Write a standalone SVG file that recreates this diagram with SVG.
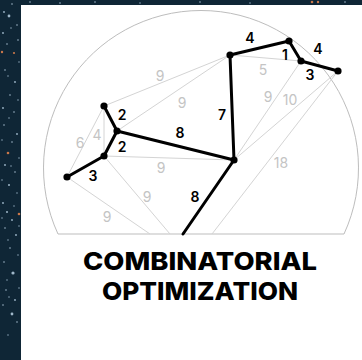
<svg xmlns="http://www.w3.org/2000/svg" width="362" height="360" viewBox="0 0 362 360">
<style>
.star{fill:#9fb7c9}
.ostar{fill:#c9774a}
.g{stroke:#d4d4d4;stroke-width:1;fill:none}
.t{stroke:#000;stroke-width:3;fill:none;stroke-linecap:round}
.n{fill:#000}
.gl{font-family:"Inter","Noto Sans",sans-serif;font-size:14px;fill:#c4c4c4;text-anchor:middle}
.bl{font-family:"Inter","Noto Sans",sans-serif;font-size:14px;font-weight:600;fill:#000;text-anchor:middle}
.title{font-family:"Inter","Liberation Sans",sans-serif;font-size:25px;font-weight:800;fill:#000;text-anchor:middle}
</style>
<rect width="362" height="360" fill="#0f2636"/>
<g id="stars">
<circle class="star" cx="4" cy="12" r="0.9"/><circle class="star" cx="12" cy="4" r="0.8"/><circle class="star" cx="9" cy="16" r="1.4" fill="#6f86b0"/>
<circle class="star" cx="17" cy="25" r="0.8"/><circle class="star" cx="3" cy="33" r="0.9"/><circle class="ostar" cx="2" cy="52" r="1.2"/>
<circle class="ostar" cx="14" cy="53" r="1.1"/><circle class="star" cx="7" cy="44" r="0.8"/><circle class="star" cx="18" cy="40" r="0.8"/>
<circle class="star" cx="5" cy="70" r="0.8"/><circle class="star" cx="15" cy="82" r="0.9"/><circle class="star" cx="10" cy="95" r="0.8"/>
<circle class="star" cx="3" cy="108" r="0.9"/><circle class="star" cx="14" cy="112" r="0.8"/><circle class="ostar" cx="8" cy="153" r="1.3"/>
<circle class="star" cx="4" cy="125" r="0.8"/><circle class="star" cx="17" cy="134" r="0.9"/><circle class="star" cx="12" cy="142" r="0.8"/>
<circle class="star" cx="5" cy="165" r="0.9"/><circle class="star" cx="15" cy="172" r="0.8"/><circle class="star" cx="9" cy="185" r="1"/>
<circle class="ostar" cx="19" cy="214" r="1.3"/><circle class="star" cx="3" cy="203" r="0.9"/><circle class="star" cx="7" cy="212" r="1"/>
<circle class="star" cx="12" cy="220" r="0.9"/><circle class="star" cx="5" cy="228" r="0.8"/><circle class="star" cx="16" cy="235" r="0.9"/>
<circle class="star" cx="10" cy="248" r="0.8"/><circle class="star" cx="4" cy="262" r="0.8"/><circle class="star" cx="13" cy="273" r="1.6" fill="#6f76b0"/>
<circle class="star" cx="6" cy="290" r="0.8"/><circle class="star" cx="15" cy="300" r="0.9"/><circle class="star" cx="3" cy="305" r="0.8"/>
<circle class="star" cx="12" cy="314" r="1.4" fill="#7a8cc0"/><circle class="star" cx="17" cy="322" r="0.8"/><circle class="star" cx="8" cy="335" r="0.7"/>
<circle class="star" cx="11" cy="28" r="0.7"/><circle class="star" cx="19" cy="62" r="0.7"/><circle class="star" cx="8" cy="76" r="0.7"/>
<circle class="star" cx="18" cy="100" r="0.7"/><circle class="star" cx="9" cy="118" r="0.7"/><circle class="star" cx="2" cy="140" r="0.7"/>
<circle class="star" cx="19" cy="158" r="0.7"/><circle class="star" cx="11" cy="166" r="0.7"/><circle class="star" cx="2" cy="180" r="0.7"/>
<circle class="star" cx="17" cy="193" r="0.7"/><circle class="star" cx="14" cy="206" r="0.7"/><circle class="star" cx="2" cy="218" r="0.7"/>
<circle class="star" cx="19" cy="226" r="0.7"/><circle class="star" cx="8" cy="240" r="0.7"/><circle class="star" cx="18" cy="255" r="0.7"/>
<circle class="star" cx="7" cy="280" r="0.7"/><circle class="star" cx="19" cy="288" r="0.7"/><circle class="star" cx="9" cy="297" r="0.7"/>
<circle class="star" cx="30" cy="2" r="0.8"/><circle class="star" cx="60" cy="3" r="0.8"/><circle class="star" cx="95" cy="2" r="0.8"/>
<circle class="star" cx="140" cy="3" r="0.7"/><circle class="star" cx="200" cy="2" r="0.8"/><circle class="star" cx="250" cy="3" r="0.7"/>
<circle class="ostar" cx="312" cy="2" r="1.3"/><circle class="ostar" cx="318" cy="2" r="1.2"/><circle class="star" cx="345" cy="2" r="0.8"/>
</g>
<rect x="21" y="5" width="341" height="355" fill="#fff"/>
<path id="dome" d="M58 234 A157.5 157.5 0 1 1 344 234 Z" fill="none" stroke="#bdbdbd" stroke-width="1"/>
<g id="connectors">
<line class="g" x1="104" y1="106" x2="230" y2="55"/>
<line class="g" x1="117" y1="131" x2="230" y2="55"/>
<line class="g" x1="104" y1="106" x2="67" y2="177"/>
<line class="g" x1="104" y1="106" x2="104" y2="156"/>
<line class="g" x1="104" y1="156" x2="234" y2="160"/>
<line class="g" x1="104" y1="156" x2="170" y2="234"/>
<line class="g" x1="67" y1="177" x2="150" y2="234"/>
<line class="g" x1="230" y1="55" x2="301" y2="61"/>
<line class="g" x1="301" y1="61" x2="234" y2="160"/>
<line class="g" x1="338" y1="71" x2="234" y2="160"/>
<line class="g" x1="338" y1="71" x2="212" y2="234"/>
<line class="t" x1="67" y1="177" x2="104" y2="156"/>
<line class="t" x1="104" y1="156" x2="117" y2="131"/>
<line class="t" x1="117" y1="131" x2="104" y2="106"/>
<line class="t" x1="117" y1="131" x2="234" y2="160"/>
<line class="t" x1="230" y1="55" x2="234" y2="160"/>
<line class="t" x1="234" y1="160" x2="183" y2="234" stroke-linecap="butt"/>
<line class="t" x1="230" y1="55" x2="289" y2="41"/>
<line class="t" x1="289" y1="41" x2="301" y2="61"/>
<line class="t" x1="301" y1="61" x2="338" y2="71"/>
</g>
<g id="nodes">
<g id="nA"><circle class="n" cx="67" cy="177" r="3.6"/></g>
<g id="nB"><circle class="n" cx="104" cy="156" r="3.6"/></g>
<g id="nC"><circle class="n" cx="117" cy="131" r="3.6"/></g>
<g id="nD"><circle class="n" cx="104" cy="106" r="3.6"/></g>
<g id="nE"><circle class="n" cx="230" cy="55" r="3.6"/></g>
<g id="nF"><circle class="n" cx="289" cy="41" r="3.6"/></g>
<g id="nG"><circle class="n" cx="301" cy="61" r="3.6"/></g>
<g id="nH"><circle class="n" cx="338" cy="71" r="3.6"/></g>
<g id="nI"><circle class="n" cx="234" cy="160" r="3.6"/></g>
</g>
<g id="labels">
<text class="gl" x="160" y="81">9</text>
<text class="gl" x="182" y="108">9</text>
<text class="gl" x="80" y="148">6</text>
<text class="gl" x="97" y="140">4</text>
<text class="gl" x="161" y="173">9</text>
<text class="gl" x="147" y="202">9</text>
<text class="gl" x="107" y="222">9</text>
<text class="gl" x="263" y="75">5</text>
<text class="gl" x="268" y="102">9</text>
<text class="gl" x="290" y="105">10</text>
<text class="gl" x="281" y="168">18</text>
<text class="bl" x="122" y="120">2</text>
<text class="bl" x="122" y="152">2</text>
<text class="bl" x="93" y="181">3</text>
<text class="bl" x="180" y="138">8</text>
<text class="bl" x="222" y="120">7</text>
<text class="bl" x="195" y="202">8</text>
<text class="bl" x="250" y="43">4</text>
<text class="bl" x="285" y="60">1</text>
<text class="bl" x="310" y="80">3</text>
<text class="bl" x="318" y="54">4</text>
</g>
<g id="title">
<text class="title" x="200" y="269.5" textLength="234" lengthAdjust="spacingAndGlyphs">COMBINATORIAL</text>
<text class="title" x="200" y="300" textLength="196" lengthAdjust="spacingAndGlyphs">OPTIMIZATION</text>
</g>
</svg>
